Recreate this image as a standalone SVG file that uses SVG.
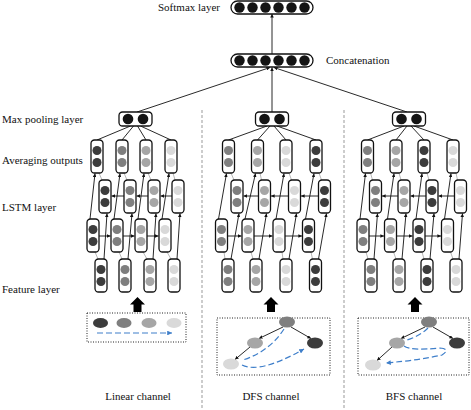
<svg xmlns="http://www.w3.org/2000/svg" width="471" height="410" viewBox="0 0 471 410">
<style>
.t{font-family:'Liberation Serif','Times New Roman',Tinos,serif;font-size:11px;fill:#111}
.bx{fill:#fff;stroke:#111;stroke-width:1.3}
.cD{fill:#3c3c3c}.cM{fill:#7f7f7f}.cL{fill:#a6a6a6}.cX{fill:#d9d9d9}.cK{fill:#141414}
.ln{stroke:#111;stroke-width:0.9;fill:none}
.gy{stroke:#999;stroke-width:0.7;fill:none}
.sep{stroke:#999;stroke-width:1;stroke-dasharray:3,2;fill:none}
.dot{fill:none;stroke:#222;stroke-width:1;stroke-dasharray:1,1.5}
.blue{stroke:#3f7fca;stroke-width:1.2;stroke-dasharray:6,3;fill:none}
</style>
<defs>
<marker id="ah" viewBox="0 0 6 6" refX="6" refY="3" markerWidth="4" markerHeight="4" orient="auto"><path d="M0,0 L6,3 L0,6 Z" fill="#111"/></marker>
<marker id="ab" viewBox="0 0 6 6" refX="6" refY="3" markerWidth="4" markerHeight="4" orient="auto"><path d="M0,0 L6,3 L0,6 Z" fill="#3f7fca"/></marker>
<g id="bD"><rect class="bx" width="12" height="33" rx="3.5"/><circle class="cD" cx="6" cy="10.5" r="4.5"/><circle class="cD" cx="6" cy="22.5" r="4.5"/></g>
<g id="bM"><rect class="bx" width="12" height="33" rx="3.5"/><circle class="cM" cx="6" cy="10.5" r="4.5"/><circle class="cM" cx="6" cy="22.5" r="4.5"/></g>
<g id="bL"><rect class="bx" width="12" height="33" rx="3.5"/><circle class="cL" cx="6" cy="10.5" r="4.5"/><circle class="cL" cx="6" cy="22.5" r="4.5"/></g>
<g id="bX"><rect class="bx" width="12" height="33" rx="3.5"/><circle class="cX" cx="6" cy="10.5" r="4.5"/><circle class="cX" cx="6" cy="22.5" r="4.5"/></g>
<g id="mp"><rect class="bx" x="-16.5" width="33" height="14" rx="3.5"/><circle class="cK" cx="-7.5" cy="7" r="5.3"/><circle class="cK" cx="7.5" cy="7" r="5.3"/></g>
<g id="six"><rect class="bx" x="231" width="82" height="13" rx="6.5"/><circle class="cK" cx="239.5" cy="6.5" r="5.2"/><circle class="cK" cx="252.5" cy="6.5" r="5.2"/><circle class="cK" cx="265.5" cy="6.5" r="5.2"/><circle class="cK" cx="278.5" cy="6.5" r="5.2"/><circle class="cK" cx="291.5" cy="6.5" r="5.2"/><circle class="cK" cx="304.5" cy="6.5" r="5.2"/></g>
<path id="bigarrow" d="M0,0 L7.5,7.5 L4,7.5 L4,15 L-4,15 L-4,7.5 L-7.5,7.5 Z" fill="#000"/>
</defs>

<!-- labels -->
<g class="t" font-family="Liberation Serif, serif">
<text x="220" y="11" text-anchor="end">Softmax layer</text>
<text x="326" y="64">Concatenation</text>
<text x="2" y="123">Max pooling layer</text>
<text x="2" y="164">Averaging outputs</text>
<text x="2" y="211">LSTM layer</text>
<text x="2" y="293">Feature layer</text>
<text x="138" y="400" text-anchor="middle">Linear channel</text>
<text x="271" y="400" text-anchor="middle">DFS channel</text>
<text x="414" y="400" text-anchor="middle">BFS channel</text>
</g>

<!-- separators -->
<line class="sep" x1="202" y1="110" x2="202" y2="410"/>
<line class="sep" x1="344" y1="110" x2="344" y2="410"/>

<!-- connectors -->
<g id="connectors">
<line class="ln" x1="272" y1="54" x2="272" y2="14" marker-end="url(#ah)"/>
<line class="ln" x1="137" y1="112" x2="270" y2="67.5" marker-end="url(#ah)"/>
<line class="ln" x1="272" y1="112" x2="272" y2="67.5" marker-end="url(#ah)"/>
<line class="ln" x1="407" y1="112" x2="274" y2="67.5" marker-end="url(#ah)"/>
<!-- linear -->
<path class="ln" d="M130.5,126L97,140M133.5,126L122,140M137.5,126L146,140M140.5,126L171,140"/>
<line class="ln" x1="99" y1="236" x2="110.5" y2="236" marker-end="url(#ah)"/>
<line class="ln" x1="123" y1="236" x2="134.5" y2="236" marker-end="url(#ah)"/>
<line class="ln" x1="147" y1="236" x2="158.5" y2="236" marker-end="url(#ah)"/>
<line class="ln" x1="124" y1="196" x2="111.5" y2="196" marker-end="url(#ah)"/>
<line class="ln" x1="148" y1="196" x2="136.5" y2="196" marker-end="url(#ah)"/>
<line class="ln" x1="172" y1="196" x2="160.5" y2="196" marker-end="url(#ah)"/>
<line class="ln" x1="90" y1="219" x2="95" y2="173.5" marker-end="url(#ah)"/>
<line class="ln" x1="114" y1="219" x2="120" y2="173.5" marker-end="url(#ah)"/>
<line class="ln" x1="138" y1="219" x2="144" y2="173.5" marker-end="url(#ah)"/>
<line class="ln" x1="162" y1="219" x2="169" y2="173.5" marker-end="url(#ah)"/>
<line class="ln" x1="104" y1="259" x2="107" y2="213.5" marker-end="url(#ah)"/>
<line class="ln" x1="128" y1="259" x2="132" y2="213.5" marker-end="url(#ah)"/>
<line class="ln" x1="153" y1="259" x2="156" y2="213.5" marker-end="url(#ah)"/>
<line class="ln" x1="177" y1="259" x2="180" y2="213.5" marker-end="url(#ah)"/>
<path class="gy" d="M102,180L99,173M127,180L124,173M151,180L148,173M175,180L173,173"/>
<path class="gy" d="M98,259L95,252M122,259L119,252M147,259L143,252M171,259L167,252"/>
<!-- DFS -->
<path class="ln" d="M267,126L228.5,140M270,126L257.5,140M274,126L286,140M277,126L316,140"/>
<line class="ln" x1="227.5" y1="236" x2="241.5" y2="236" marker-end="url(#ah)"/>
<line class="ln" x1="254" y1="236" x2="272.5" y2="236" marker-end="url(#ah)"/>
<line class="ln" x1="285" y1="236" x2="302" y2="236" marker-end="url(#ah)"/>
<line class="ln" x1="258.5" y1="196" x2="243.5" y2="196" marker-end="url(#ah)"/>
<line class="ln" x1="288.5" y1="196" x2="271" y2="196" marker-end="url(#ah)"/>
<line class="ln" x1="318.5" y1="196" x2="301" y2="196" marker-end="url(#ah)"/>
<line class="ln" x1="218.5" y1="219" x2="226.5" y2="173.5" marker-end="url(#ah)"/>
<line class="ln" x1="245" y1="219" x2="255.5" y2="173.5" marker-end="url(#ah)"/>
<line class="ln" x1="276" y1="219" x2="284" y2="173.5" marker-end="url(#ah)"/>
<line class="ln" x1="305.5" y1="219" x2="314" y2="173.5" marker-end="url(#ah)"/>
<line class="ln" x1="231" y1="259" x2="239" y2="213.5" marker-end="url(#ah)"/>
<line class="ln" x1="259" y1="259" x2="266.5" y2="213.5" marker-end="url(#ah)"/>
<line class="ln" x1="289" y1="259" x2="296.5" y2="213.5" marker-end="url(#ah)"/>
<line class="ln" x1="318.5" y1="259" x2="326.5" y2="213.5" marker-end="url(#ah)"/>
<path class="gy" d="M234,180L231,173M261.5,180L260,173M291.5,180L289,173M321.5,180L319,173"/>
<path class="gy" d="M225,259L224,252M253,259L251,252M283,259L282,252M312.5,259L311,252"/>
<!-- BFS -->
<path class="ln" d="M404,126L367.5,140M407,126L396,140M411,126L424,140M414,126L453,140"/>
<line class="ln" x1="369" y1="236" x2="384" y2="236" marker-end="url(#ah)"/>
<line class="ln" x1="396.5" y1="236" x2="412.5" y2="236" marker-end="url(#ah)"/>
<line class="ln" x1="425" y1="236" x2="441" y2="236" marker-end="url(#ah)"/>
<line class="ln" x1="398" y1="196" x2="382" y2="196" marker-end="url(#ah)"/>
<line class="ln" x1="426" y1="196" x2="410.5" y2="196" marker-end="url(#ah)"/>
<line class="ln" x1="454.5" y1="196" x2="438.5" y2="196" marker-end="url(#ah)"/>
<line class="ln" x1="360" y1="219" x2="365.5" y2="173.5" marker-end="url(#ah)"/>
<line class="ln" x1="387.5" y1="219" x2="394" y2="173.5" marker-end="url(#ah)"/>
<line class="ln" x1="416" y1="219" x2="422" y2="173.5" marker-end="url(#ah)"/>
<line class="ln" x1="444.5" y1="219" x2="451" y2="173.5" marker-end="url(#ah)"/>
<line class="ln" x1="374" y1="259" x2="377.5" y2="213.5" marker-end="url(#ah)"/>
<line class="ln" x1="402" y1="259" x2="406" y2="213.5" marker-end="url(#ah)"/>
<line class="ln" x1="430" y1="259" x2="434" y2="213.5" marker-end="url(#ah)"/>
<line class="ln" x1="459" y1="259" x2="462.5" y2="213.5" marker-end="url(#ah)"/>
<path class="gy" d="M372.5,180L370.5,173M401,180L399,173M429,180L427,173M457.5,180L456,173"/>
<path class="gy" d="M368,259L366,252M396,259L393.5,252M424,259L422,252M453,259L450.5,252"/>
<!-- big arrows -->
<use href="#bigarrow" x="137.5" y="297"/>
<use href="#bigarrow" x="271" y="297"/>
<use href="#bigarrow" x="415" y="297"/>
</g>

<!-- top nodes -->
<g id="softmax"><use href="#six" y="1"/></g>
<g id="concat"><use href="#six" y="54"/></g>
<g id="lin-maxpool"><use href="#mp" x="135.5" y="112"/></g>
<g id="dfs-maxpool"><use href="#mp" x="272" y="112"/></g>
<g id="bfs-maxpool"><use href="#mp" x="409" y="112"/></g>

<!-- linear channel nodes -->
<g id="lin-avg1"><use href="#bD" x="91" y="140"/></g>
<g id="lin-avg2"><use href="#bM" x="116" y="140"/></g>
<g id="lin-avg3"><use href="#bL" x="140" y="140"/></g>
<g id="lin-avg4"><use href="#bX" x="165" y="140"/></g>
<g id="lin-bw1"><use href="#bD" x="99" y="180"/></g>
<g id="lin-bw2"><use href="#bM" x="124" y="180"/></g>
<g id="lin-bw3"><use href="#bL" x="148" y="180"/></g>
<g id="lin-bw4"><use href="#bX" x="172" y="180"/></g>
<g id="lin-fw1"><use href="#bD" x="87" y="219"/></g>
<g id="lin-fw2"><use href="#bM" x="111" y="219"/></g>
<g id="lin-fw3"><use href="#bL" x="135" y="219"/></g>
<g id="lin-fw4"><use href="#bX" x="159" y="219"/></g>
<g id="lin-feat1"><use href="#bD" x="95" y="259"/></g>
<g id="lin-feat2"><use href="#bM" x="119" y="259"/></g>
<g id="lin-feat3"><use href="#bL" x="144" y="259"/></g>
<g id="lin-feat4"><use href="#bX" x="168" y="259"/></g>

<!-- DFS channel nodes -->
<g id="dfs-avg1"><use href="#bM" x="222.5" y="140"/></g>
<g id="dfs-avg2"><use href="#bL" x="251.5" y="140"/></g>
<g id="dfs-avg3"><use href="#bX" x="280" y="140"/></g>
<g id="dfs-avg4"><use href="#bD" x="310" y="140"/></g>
<g id="dfs-bw1"><use href="#bM" x="231" y="180"/></g>
<g id="dfs-bw2"><use href="#bL" x="258.5" y="180"/></g>
<g id="dfs-bw3"><use href="#bX" x="288.5" y="180"/></g>
<g id="dfs-bw4"><use href="#bD" x="318.5" y="180"/></g>
<g id="dfs-fw1"><use href="#bM" x="215.5" y="219"/></g>
<g id="dfs-fw2"><use href="#bL" x="242" y="219"/></g>
<g id="dfs-fw3"><use href="#bX" x="273" y="219"/></g>
<g id="dfs-fw4"><use href="#bD" x="302.5" y="219"/></g>
<g id="dfs-feat1"><use href="#bM" x="222" y="259"/></g>
<g id="dfs-feat2"><use href="#bL" x="250" y="259"/></g>
<g id="dfs-feat3"><use href="#bX" x="280" y="259"/></g>
<g id="dfs-feat4"><use href="#bD" x="309.5" y="259"/></g>

<!-- BFS channel nodes -->
<g id="bfs-avg1"><use href="#bM" x="361.5" y="140"/></g>
<g id="bfs-avg2"><use href="#bL" x="390" y="140"/></g>
<g id="bfs-avg3"><use href="#bD" x="418" y="140"/></g>
<g id="bfs-avg4"><use href="#bX" x="447" y="140"/></g>
<g id="bfs-bw1"><use href="#bM" x="369.5" y="180"/></g>
<g id="bfs-bw2"><use href="#bL" x="398" y="180"/></g>
<g id="bfs-bw3"><use href="#bD" x="426" y="180"/></g>
<g id="bfs-bw4"><use href="#bX" x="454.5" y="180"/></g>
<g id="bfs-fw1"><use href="#bM" x="357" y="219"/></g>
<g id="bfs-fw2"><use href="#bL" x="384.5" y="219"/></g>
<g id="bfs-fw3"><use href="#bD" x="413" y="219"/></g>
<g id="bfs-fw4"><use href="#bX" x="441.5" y="219"/></g>
<g id="bfs-feat1"><use href="#bM" x="365" y="259"/></g>
<g id="bfs-feat2"><use href="#bL" x="393" y="259"/></g>
<g id="bfs-feat3"><use href="#bD" x="421" y="259"/></g>
<g id="bfs-feat4"><use href="#bX" x="450" y="259"/></g>

<!-- inputs -->
<g id="lin-input">
<rect class="dot" x="87" y="313" width="99" height="29"/>
<ellipse class="cD" cx="100.5" cy="323" rx="7.5" ry="5"/>
<ellipse class="cM" cx="124" cy="323" rx="7.5" ry="5"/>
<ellipse class="cL" cx="149" cy="323" rx="7.5" ry="5"/>
<ellipse class="cX" cx="174" cy="323" rx="7.5" ry="5"/>
<line class="blue" x1="97" y1="333" x2="172" y2="333" marker-end="url(#ab)"/>
</g>
<g id="dfs-input">
<rect class="dot" x="217" y="318" width="113" height="57"/>
<path class="ln" d="M283,327L259,338.5" marker-end="url(#ah)"/>
<path class="ln" d="M291,327L311,338.5" marker-end="url(#ah)"/>
<path class="ln" d="M250,347L235,359.5" marker-end="url(#ah)"/>
<ellipse class="cM" cx="287" cy="322" rx="8" ry="5.5"/>
<ellipse class="cL" cx="255" cy="343" rx="8" ry="5.5"/>
<ellipse class="cD" cx="315" cy="343" rx="8" ry="5.5"/>
<ellipse class="cX" cx="231" cy="364" rx="8" ry="5.5"/>
<path class="blue" d="M284,329Q270,351 243,360"/>
<path class="blue" d="M242,365Q260,374 304,349" marker-end="url(#ab)"/>
</g>
<g id="bfs-input">
<rect class="dot" x="358" y="318" width="111" height="57"/>
<path class="ln" d="M425,327L401,338.5" marker-end="url(#ah)"/>
<path class="ln" d="M433,327L453,338.5" marker-end="url(#ah)"/>
<path class="ln" d="M392,347L377,360.5" marker-end="url(#ah)"/>
<ellipse class="cM" cx="429" cy="322" rx="8" ry="5.5"/>
<ellipse class="cL" cx="397" cy="343" rx="8" ry="5.5"/>
<ellipse class="cD" cx="457" cy="343" rx="8" ry="5.5"/>
<ellipse class="cX" cx="373" cy="365" rx="8" ry="5.5"/>
<path class="blue" d="M428,328Q420,336 407,340"/>
<path class="blue" d="M404,346Q410,351 440,348Q451,349 442,355Q420,360 386,363" marker-end="url(#ab)"/>
</g>
</svg>
